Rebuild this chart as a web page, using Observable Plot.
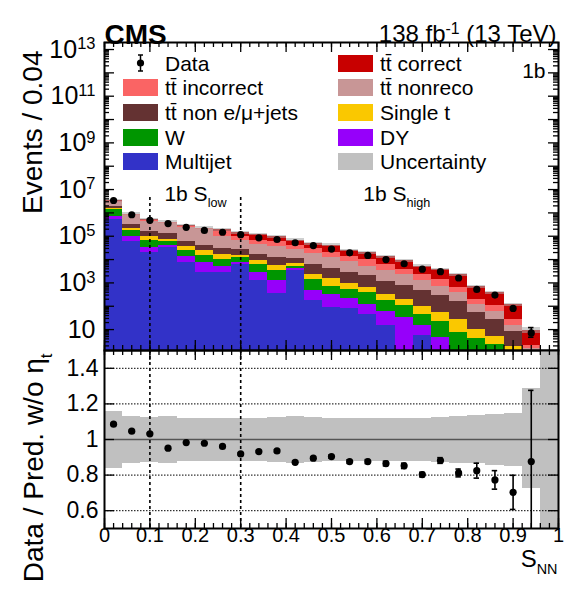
<!DOCTYPE html>
<html><head><meta charset="utf-8">
<script src="https://cdn.jsdelivr.net/npm/d3@7"></script>
<script src="https://cdn.jsdelivr.net/npm/@observablehq/plot@0.6"></script>
<style>
body{margin:0;background:#fff;}
#wrap{position:relative;width:580px;height:604px;font-family:"Liberation Sans",Arial,Helvetica,sans-serif;}
#wrap > svg{display:block;position:absolute;left:0;overflow:visible;}
.legend{position:absolute;left:123px;top:54px;font-size:21px;color:#000;line-height:1;}
.row{position:absolute;height:18px;display:flex;align-items:center;white-space:nowrap;}
.sw{width:35px;height:17px;margin-right:7px;flex:none;}
</style></head><body><div id="wrap"></div>
<script>
// ---------------- data ----------------
const binLo = [0, 0.04, 0.08, 0.12, 0.16, 0.2, 0.24, 0.28, 0.32, 0.36, 0.4, 0.44, 0.48, 0.52, 0.56, 0.6, 0.64, 0.68, 0.72, 0.76, 0.8, 0.84, 0.88, 0.92, 0.96];
const binWidth = 0.04;

const multijet  = [513000, 61700, 19500, 31600, 7240, 2750, 2750, 6310, 1290, 355, 3470, 170, 89, 83, 44, 15, 1, 5.5, 0.5, 0.3, 0.2, 0.1, 0.05, 0, 0];
const dyJets    = [195000, 38300, 14400, 8200, 5960, 4490, 2500, 1450, 1460, 875, 600, 320, 242, 141, 79, 45, 32, 9.3, 4.2, 1, 0.5, 0.3, 0.1, 0, 0];
const wJets     = [672000, 82000, 33700, 21900, 11900, 8260, 4950, 4240, 3140, 2240, 1060, 960, 361, 289, 249, 110, 72, 28.9, 17.7, 6.5, 3.3, 2, 0.8, 0.1, 0];
const singleT   = [130000, 42000, 32400, 12400, 11200, 8500, 6400, 3100, 2820, 2150, 1330, 890, 818, 420, 289, 161, 90, 58, 32.6, 20, 5.8, 2.6, 1, 0.2, 0];
const ttNonEmu  = [400000, 107000, 62000, 51900, 25400, 15800, 13600, 11200, 7890, 6380, 5040, 3970, 2560, 1820, 1340, 819, 546, 355, 227, 127, 45, 23, 6.6, 0.8, 0];
const ttNonreco = [970000, 428000, 275000, 221000, 178000, 151000, 69800, 39800, 28100, 25200, 14800, 11500, 7930, 5380, 3250, 2320, 1600, 833, 394, 234, 60, 32, 6.3, 0.5, 0];
const ttIncorr  = [280000, 73000, 42000, 25000, 29000, 23000, 62000, 33900, 22900, 24500, 13500, 12400, 7500, 5670, 4520, 2420, 1380, 1050, 770, 242, 89, 45, 13.4, 0.5, 0];
const ttCorrect = [230000, 59000, 46000, 35000, 26000, 10000, 29000, 38000, 49400, 31600, 27800, 16600, 22200, 10700, 9730, 7010, 4990, 2910, 2350, 1560, 488, 284, 87, 7, 0];

const dataEvents = [3390000, 832000, 479000, 347000, 240000, 178000, 148000, 117000, 85100, 72400, 52500, 39800, 28200, 19500, 15100, 10000, 6610, 3890, 3020, 1620, 525, 302, 81, 7.2];
const dataErrLo  = [0, 0, 0, 0, 0, 0, 0, 0, 0, 0, 0, 0, 0, 0, 0, 0, 0, 0, 0, 0, 0, 0, 0, 2.5];
const dataErrHi  = [0, 0, 0, 0, 0, 0, 0, 0, 0, 0, 0, 0, 0, 0, 0, 0, 0, 0, 0, 0, 0, 0, 0, 5.0];

// ratio panel
const ratio    = [1.086, 1.047, 1.032, 0.951, 0.983, 0.979, 0.961, 0.919, 0.932, 0.936, 0.872, 0.895, 0.904, 0.876, 0.876, 0.865, 0.852, 0.803, 0.882, 0.812, 0.825, 0.773, 0.703, 0.876];
const ratioErr = [0.004, 0.004, 0.004, 0.004, 0.004, 0.005, 0.005, 0.005, 0.006, 0.006, 0.007, 0.008, 0.009, 0.010, 0.011, 0.013, 0.015, 0.013, 0.016, 0.022, 0.042, 0.052, 0.096, 0.40];
const uncHi = [1.158, 1.131, 1.126, 1.131, 1.12, 1.12, 1.12, 1.12, 1.12, 1.126, 1.13, 1.126, 1.12, 1.12, 1.12, 1.12, 1.12, 1.12, 1.126, 1.131, 1.135, 1.139, 1.145, 1.285, 1.5];
const uncLo = [0.838, 0.867, 0.872, 0.863, 0.876, 0.876, 0.876, 0.876, 0.876, 0.872, 0.867, 0.872, 0.876, 0.876, 0.876, 0.876, 0.876, 0.876, 0.872, 0.867, 0.863, 0.854, 0.848, 0.722, 0.5];

const processNames = ["Multijet", "DY", "W", "Single t", "tt\u0304 non e/\u03bc+jets", "tt\u0304 nonreco", "tt\u0304 incorrect", "tt\u0304 correct"];
const processColors = ["#3232c8", "#9600fa", "#009600", "#fac800", "#643232", "#c89696", "#fa6464", "#c80000"];
const uncColor = "#c0c0c0";

const xMajor = [0, 0.1, 0.2, 0.3, 0.4, 0.5, 0.6, 0.7, 0.8, 0.9, 1];
const yTopLabels = [10, 1e3, 1e5, 1e7, 1e9, 1e11, 1e13];
const ratioTicks = [0.6, 0.8, 1, 1.2, 1.4];
const regionLines = [0.1, 0.3];

(function () {
// ---------------- derived tables ----------------
const layers = [multijet, dyJets, wJets, singleT, ttNonEmu, ttNonreco, ttIncorr, ttCorrect];
const YMIN = 1.27, YMAX = 2e13;
const stackRows = [];
const totals = [];
binLo.forEach((x0, i) => {
  let cum = 0;
  layers.forEach((arr, k) => {
    const v = arr[i];
    if (!(v > 0)) return;
    const lo = cum; cum += v;
    stackRows.push({x1: x0, x2: x0 + binWidth, y1: lo > 0 ? lo : 1e-3, y2: cum, process: processNames[k]});
  });
  totals.push(cum);
});
const uncRows = binLo.map((x0, i) => ({x1: x0, x2: x0 + binWidth, t: totals[i], lo: uncLo[i], hi: uncHi[i]})).filter(d => d.t > 0);
const dataRows = dataEvents.map((v, i) => ({x: binLo[i] + binWidth / 2, y: v, lo: v - dataErrLo[i], hi: v + dataErrHi[i]}));
const ratioRows = ratio.map((r, i) => ({x: binLo[i] + binWidth / 2, y: r, lo: r - ratioErr[i], hi: r + ratioErr[i]}));
const bandRows = binLo.map((x0, i) => ({x1: x0, x2: x0 + binWidth, lo: uncLo[i], hi: uncHi[i]}));

const xMinor = d3.range(0, 1.0001, 0.02);
const yMajorTop = d3.range(0, 14).map(e => Math.pow(10, e)).filter(v => v >= YMIN && v <= YMAX);
const yMinorTop = [];
for (let e = 0; e <= 13; e++) for (let k = 2; k <= 9; k++) { const v = k * Math.pow(10, e); if (v >= YMIN && v <= YMAX) yMinorTop.push(v); }

const W = 580, ML = 104, MR = 22;
const FW = W - ML - MR;
const TOP_H = 350, TOP_MT = 42, TOP_FH = TOP_H - TOP_MT;
const BOT_H = 254, BOT_MB = 76, BOT_FH = BOT_H - BOT_MB;
const font = "Liberation Sans, Arial, Helvetica, sans-serif";

function edgeTicks(FH, xMaj, xMin, yMaj, yMin, majLen, minLen) {
  const s = {stroke: "#000", strokeWidth: 1.3};
  const m = [];
  m.push(Plot.tickX(xMaj, {x: d => d, insetTop: FH - majLen, ...s}));
  m.push(Plot.tickX(xMaj, {x: d => d, insetBottom: FH - majLen, ...s}));
  m.push(Plot.tickX(xMin, {x: d => d, insetTop: FH - minLen, ...s}));
  m.push(Plot.tickX(xMin, {x: d => d, insetBottom: FH - minLen, ...s}));
  m.push(Plot.tickY(yMaj, {y: d => d, insetRight: FW - majLen, ...s}));
  m.push(Plot.tickY(yMaj, {y: d => d, insetLeft: FW - majLen, ...s}));
  if (yMin.length) {
    m.push(Plot.tickY(yMin, {y: d => d, insetRight: FW - minLen, ...s}));
    m.push(Plot.tickY(yMin, {y: d => d, insetLeft: FW - minLen, ...s}));
  }
  return m;
}

// ---------------- top panel ----------------
const topPlot = Plot.plot({
  width: W, height: TOP_H,
  marginTop: TOP_MT, marginBottom: 0, marginLeft: ML, marginRight: MR,
  style: {fontFamily: font, background: "transparent", overflow: "visible"},
  x: {domain: [0, 1], axis: null},
  y: {type: "log", domain: [YMIN, YMAX], axis: null},
  color: {domain: processNames, range: processColors},
  marks: [
    Plot.rect(stackRows, {x1: "x1", x2: "x2", y1: "y1", y2: "y2", fill: "process", clip: true, shapeRendering: "crispEdges"}),
    Plot.rect(uncRows, {x1: "x1", x2: "x2", y1: d => d.t * d.lo, y2: d => d.t * d.hi, fill: "#a8a8a8", fillOpacity: 0.55, clip: true, shapeRendering: "crispEdges"}),
    Plot.ruleX(regionLines, {x: d => d, y1: YMIN, y2: 5e6, stroke: "#000", strokeWidth: 1.6, strokeDasharray: "3,3"}),
    Plot.ruleX(dataRows.filter(d => d.hi > d.lo), {x: "x", y1: "lo", y2: "hi", stroke: "#000", strokeWidth: 1.6, clip: true}),
    Plot.ruleY(dataRows.filter(d => d.hi > d.lo), {y: "hi", x1: d => d.x - 0.006, x2: d => d.x + 0.006, stroke: "#000", strokeWidth: 1.6, clip: true}),
    Plot.ruleY(dataRows.filter(d => d.hi > d.lo), {y: "lo", x1: d => d.x - 0.006, x2: d => d.x + 0.006, stroke: "#000", strokeWidth: 1.6, clip: true}),
    Plot.dot(dataRows, {x: "x", y: "y", r: 3.6, fill: "#000", stroke: "none"}),
    ...edgeTicks(TOP_FH, xMajor, xMinor, yMajorTop, yMinorTop, 10, 5),
    Plot.frame({stroke: "#000", strokeWidth: 2}),
    Plot.text(yTopLabels, {y: d => d, text: d => d === 10 ? "10" : "10^{" + Math.round(Math.log10(d)) + "}", frameAnchor: "left", textAnchor: "end", dx: -9, fontSize: 25, fill: "#000"}),
    Plot.text(["1b S_{low}"], {x: 0.132, y: 6.5e6, text: d => d, textAnchor: "start", fontSize: 21, fill: "#000"}),
    Plot.text(["1b S_{high}"], {x: 0.570, y: 6.5e6, text: d => d, textAnchor: "start", fontSize: 21, fill: "#000"}),
    Plot.text(["1b"], {frameAnchor: "top-right", text: d => d, textAnchor: "end", dx: -13, dy: 21, fontSize: 21, fill: "#000"}),
    Plot.text(["CMS"], {frameAnchor: "top-left", text: d => d, textAnchor: "start", dx: 0, dy: -18, fontSize: 28, fontWeight: "bold", fill: "#000"}),
    Plot.text(["138 fb^{-1} (13 TeV)"], {frameAnchor: "top-right", text: d => d, textAnchor: "end", dx: -2, dy: -18, fontSize: 24, fill: "#000"}),
    Plot.text(["Events / 0.04"], {frameAnchor: "top-left", text: d => d, rotate: -90, textAnchor: "end", dx: -82, dy: 8, fontSize: 28, fill: "#000"})
  ]
});

// ---------------- ratio panel ----------------
const botPlot = Plot.plot({
  width: W, height: BOT_H,
  marginTop: 0, marginBottom: BOT_MB, marginLeft: ML, marginRight: MR,
  style: {fontFamily: font, background: "transparent", overflow: "visible"},
  x: {domain: [0, 1], axis: null},
  y: {domain: [0.5, 1.5], axis: null},
  marks: [
    Plot.rect(bandRows, {x1: "x1", x2: "x2", y1: "lo", y2: "hi", fill: uncColor, clip: true, shapeRendering: "crispEdges"}),
    Plot.ruleY(ratioTicks.filter(d => d !== 1), {y: d => d, stroke: "#000", strokeWidth: 1, strokeDasharray: "1.5,1.5"}),
    Plot.ruleY([1], {y: d => d, stroke: "#555", strokeWidth: 1.6}),
    Plot.ruleX(regionLines, {x: d => d, stroke: "#000", strokeWidth: 1.6, strokeDasharray: "3,3"}),
    Plot.ruleX(ratioRows, {x: "x", y1: "lo", y2: "hi", stroke: "#000", strokeWidth: 1.6, clip: true}),
    Plot.ruleY(ratioRows, {y: "hi", x1: d => d.x - 0.006, x2: d => d.x + 0.006, stroke: "#000", strokeWidth: 1.6, clip: true}),
    Plot.ruleY(ratioRows, {y: "lo", x1: d => d.x - 0.006, x2: d => d.x + 0.006, stroke: "#000", strokeWidth: 1.6, clip: true}),
    Plot.dot(ratioRows, {x: "x", y: "y", r: 3.6, fill: "#000", stroke: "none"}),
    ...edgeTicks(BOT_FH, xMajor, xMinor, ratioTicks, [], 10, 5),
    Plot.frame({stroke: "#000", strokeWidth: 2}),
    Plot.text(ratioTicks, {y: d => d, text: d => String(d), frameAnchor: "left", textAnchor: "end", dx: -6, fontSize: 23, fill: "#000"}),
    Plot.text(xMajor, {x: d => d, text: d => String(d), frameAnchor: "bottom", dy: 13, fontSize: 20, fill: "#000"}),
    Plot.text(["S_{NN}"], {frameAnchor: "bottom-right", text: d => d, textAnchor: "end", dx: -1, dy: 38, fontSize: 24, fill: "#000"}),
    Plot.text(["Data / Pred. w/o \u03b7_{t}"], {frameAnchor: "top-left", text: d => d, rotate: -90, textAnchor: "end", dx: -81, dy: 3, fontSize: 28, fill: "#000"})
  ]
});

const wrap = document.getElementById("wrap");
topPlot.style.top = "0px";
botPlot.style.top = TOP_H + "px";
wrap.appendChild(topPlot);
wrap.appendChild(botPlot);

// super/subscript markup  ^{..}  _{..}
function markup(svg) {
  d3.select(svg).selectAll("text").each(function () {
    const s = this.textContent;
    if (!/[\^_]\{/.test(s)) return;
    const fs = parseFloat(getComputedStyle(this).fontSize) || 16;
    const parts = s.split(/([\^_]\{[^}]*\})/).filter(p => p.length);
    while (this.firstChild) this.removeChild(this.firstChild);
    let shift = 0;
    for (const p of parts) {
      const ts = document.createElementNS("http://www.w3.org/2000/svg", "tspan");
      let target = 0, txt = p, size = null;
      if (p.startsWith("^{")) { target = -0.33 * fs; txt = p.slice(2, -1); size = 0.66 * fs; }
      else if (p.startsWith("_{")) { target = 0.3 * fs; txt = p.slice(2, -1); size = 0.6 * fs; }
      ts.setAttribute("dy", (target - shift).toFixed(2));
      shift = target;
      if (size) ts.setAttribute("font-size", size.toFixed(1));
      ts.textContent = txt;
      this.appendChild(ts);
    }
  });
}
markup(topPlot); markup(botPlot);

// ---------------- legend ----------------
const legendEntries = [
  {label: "Data", kind: "data", col: 0, row: 0},
  {label: "tt\u0304 incorrect", color: processColors[6], col: 0, row: 1},
  {label: "tt\u0304 non e/\u03bc+jets", color: processColors[4], col: 0, row: 2},
  {label: "W", color: processColors[2], col: 0, row: 3},
  {label: "Multijet", color: processColors[0], col: 0, row: 4},
  {label: "tt\u0304 correct", color: processColors[7], col: 1, row: 0},
  {label: "tt\u0304 nonreco", color: processColors[5], col: 1, row: 1},
  {label: "Single t", color: processColors[3], col: 1, row: 2},
  {label: "DY", color: processColors[1], col: 1, row: 3},
  {label: "Uncertainty", color: uncColor, col: 1, row: 4}
];
const leg = document.createElement("div");
leg.className = "legend";
legendEntries.forEach(e => {
  const row = document.createElement("div");
  row.className = "row";
  row.style.left = (e.col * 215) + "px";
  row.style.top = (e.row * 24.7) + "px";
  let sw;
  if (e.kind === "data") {
    sw = document.createElementNS("http://www.w3.org/2000/svg", "svg");
    sw.setAttribute("width", 35); sw.setAttribute("height", 18);
    sw.setAttribute("class", "sw");
    sw.style.height = "18px";
    sw.innerHTML = '<line x1="17.5" x2="17.5" y1="1" y2="17" stroke="#000" stroke-width="1.5"/>' +
      '<line x1="15" x2="20" y1="1" y2="1" stroke="#000" stroke-width="1.5"/>' +
      '<line x1="15" x2="20" y1="17" y2="17" stroke="#000" stroke-width="1.5"/>' +
      '<circle cx="17.5" cy="9" r="3.6" fill="#000"/>';
  } else {
    sw = document.createElement("div");
    sw.className = "sw";
    sw.style.background = e.color;
  }
  const lab = document.createElement("span");
  lab.textContent = e.label;
  row.appendChild(sw); row.appendChild(lab);
  leg.appendChild(row);
});
wrap.appendChild(leg);
})();
</script></body></html>
